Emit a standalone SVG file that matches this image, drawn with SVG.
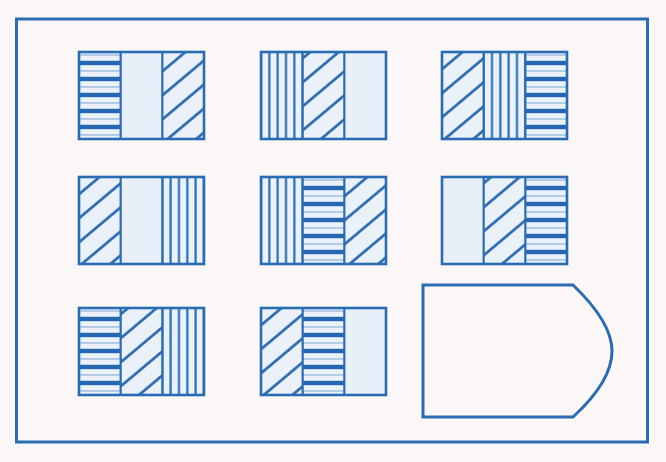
<svg xmlns="http://www.w3.org/2000/svg" width="666" height="462" viewBox="0 0 666 462">
<style>
.frame{fill:none;stroke:#2a6cb4;stroke-width:3}
.box{fill:none;stroke:#2a6cb4;stroke-width:2.6}
.div{stroke:#2a6cb4;stroke-width:2.2}
.blank{fill:#e8eff8}
.h{fill:url(#pH)}
.v{fill:url(#pV)}
.d{fill:url(#pD)}
</style>
<defs>
<pattern id="pH" patternUnits="userSpaceOnUse" width="10" height="16">
<rect width="10" height="16" fill="#eaf1f9"/>
<rect y="8.8" width="10" height="4.4" fill="#2566b0"/>
<rect y="2.5" width="10" height="1" fill="#7aa6d8"/>
</pattern>
<pattern id="pV" patternUnits="userSpaceOnUse" x="-4.17" width="8.33" height="10">
<rect width="8.33" height="10" fill="#eaf1f9"/>
<rect x="3.07" width="2.2" height="10" fill="#2a6cb4"/>
</pattern>
<pattern id="pD" patternUnits="userSpaceOnUse" width="10" height="18.4" patternTransform="rotate(-40) translate(0,4)">
<rect width="10" height="18.4" fill="#eaf1f9"/>
<rect y="7.9" width="10" height="2.6" fill="#2566b0"/>
</pattern>
</defs>
<rect width="666" height="462" fill="#fcf7f7"/>
<rect class="frame" x="16.5" y="19" width="631" height="423"/>

<g id="box1" transform="translate(79,52)">
<rect class="h" x="0" y="0" width="41.67" height="87"/><rect class="blank" x="41.67" y="0" width="41.67" height="87"/><rect class="d" x="83.33" y="0" width="41.67" height="87"/>
<line class="div" x1="41.67" y1="0" x2="41.67" y2="87"/><line class="div" x1="83.33" y1="0" x2="83.33" y2="87"/>
<rect class="box" width="125" height="87"/>
</g>
<g id="box2" transform="translate(261,52)">
<rect class="v" x="0" y="0" width="41.67" height="87"/><rect class="d" x="41.67" y="0" width="41.67" height="87"/><rect class="blank" x="83.33" y="0" width="41.67" height="87"/>
<line class="div" x1="41.67" y1="0" x2="41.67" y2="87"/><line class="div" x1="83.33" y1="0" x2="83.33" y2="87"/>
<rect class="box" width="125" height="87"/>
</g>
<g id="box3" transform="translate(442,52)">
<rect class="d" x="0" y="0" width="41.67" height="87"/><rect class="v" x="41.67" y="0" width="41.67" height="87"/><rect class="h" x="83.33" y="0" width="41.67" height="87"/>
<line class="div" x1="41.67" y1="0" x2="41.67" y2="87"/><line class="div" x1="83.33" y1="0" x2="83.33" y2="87"/>
<rect class="box" width="125" height="87"/>
</g>

<g id="box4" transform="translate(79,177)">
<rect class="d" x="0" y="0" width="41.67" height="87"/><rect class="blank" x="41.67" y="0" width="41.67" height="87"/><rect class="v" x="83.33" y="0" width="41.67" height="87"/>
<line class="div" x1="41.67" y1="0" x2="41.67" y2="87"/><line class="div" x1="83.33" y1="0" x2="83.33" y2="87"/>
<rect class="box" width="125" height="87"/>
</g>
<g id="box5" transform="translate(261,177)">
<rect class="v" x="0" y="0" width="41.67" height="87"/><rect class="h" x="41.67" y="0" width="41.67" height="87"/><rect class="d" x="83.33" y="0" width="41.67" height="87"/>
<line class="div" x1="41.67" y1="0" x2="41.67" y2="87"/><line class="div" x1="83.33" y1="0" x2="83.33" y2="87"/>
<rect class="box" width="125" height="87"/>
</g>
<g id="box6" transform="translate(442,177)">
<rect class="blank" x="0" y="0" width="41.67" height="87"/><rect class="d" x="41.67" y="0" width="41.67" height="87"/><rect class="h" x="83.33" y="0" width="41.67" height="87"/>
<line class="div" x1="41.67" y1="0" x2="41.67" y2="87"/><line class="div" x1="83.33" y1="0" x2="83.33" y2="87"/>
<rect class="box" width="125" height="87"/>
</g>

<g id="box7" transform="translate(79,308)">
<rect class="h" x="0" y="0" width="41.67" height="87"/><rect class="d" x="41.67" y="0" width="41.67" height="87"/><rect class="v" x="83.33" y="0" width="41.67" height="87"/>
<line class="div" x1="41.67" y1="0" x2="41.67" y2="87"/><line class="div" x1="83.33" y1="0" x2="83.33" y2="87"/>
<rect class="box" width="125" height="87"/>
</g>
<g id="box8" transform="translate(261,308)">
<rect class="d" x="0" y="0" width="41.67" height="87"/><rect class="h" x="41.67" y="0" width="41.67" height="87"/><rect class="blank" x="83.33" y="0" width="41.67" height="87"/>
<line class="div" x1="41.67" y1="0" x2="41.67" y2="87"/><line class="div" x1="83.33" y1="0" x2="83.33" y2="87"/>
<rect class="box" width="125" height="87"/>
</g>

<g id="shape9">
<path class="frame" d="M423,285 H573 C596,307 612,330 612,351 C612,372 597,395 573,417 H423 Z"/>
</g>
</svg>
